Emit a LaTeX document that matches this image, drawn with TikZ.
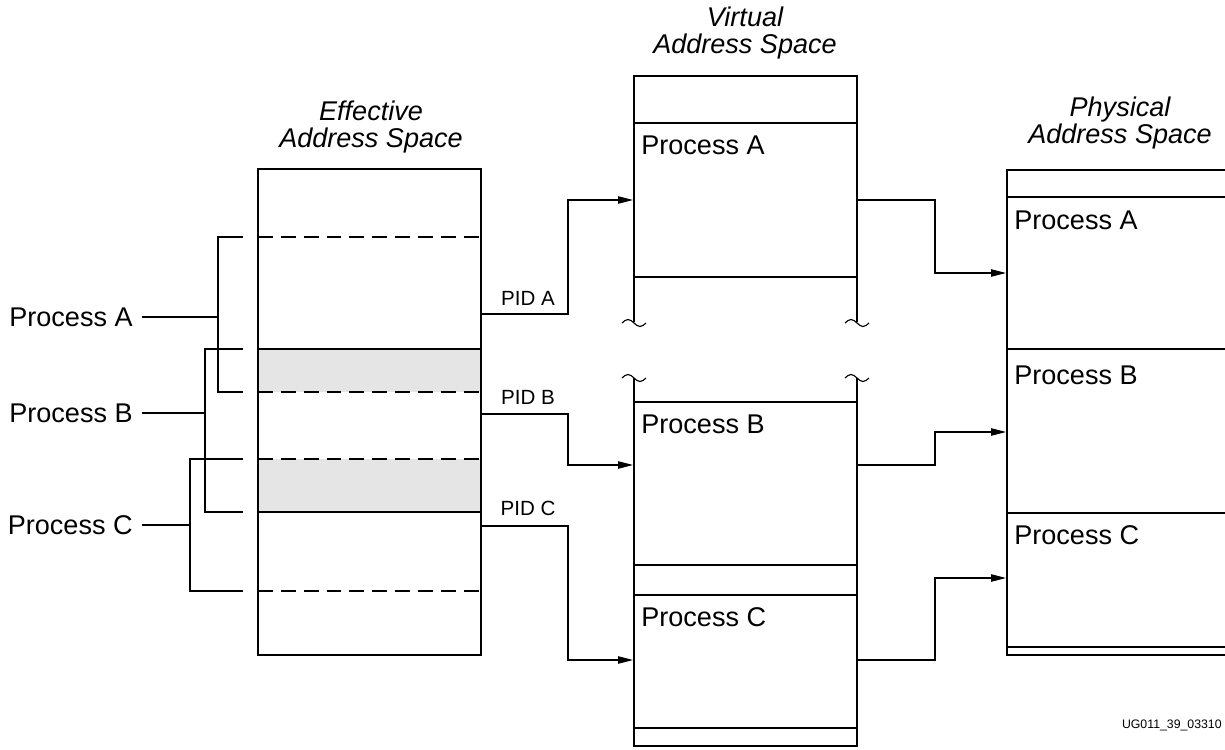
\documentclass[tikz,border=0pt]{standalone}
\usepackage{fontspec}
\setmainfont{Liberation Sans}
\usetikzlibrary{arrows.meta, positioning, calc}

\begin{document}
\begin{tikzpicture}[x=0.02cm, y=-0.02cm,
    box/.style={line width=1.4pt},
    sep/.style={line width=0.65pt},
    dsep/.style={line width=0.65pt, dash pattern=on 8.5pt off 4.5pt},
    link/.style={line width=0.65pt},
    arr/.style={line width=0.65pt, -{Triangle[length=8.5pt, width=4.2pt]}},
    txt/.style={font=\fontsize{15.4}{15.5}\selectfont, inner sep=0pt},
    ttl/.style={font=\fontsize{15.4}{15.5}\selectfont\itshape, align=center, inner sep=0pt},
    pid/.style={font=\fontsize{11.7}{12}\selectfont, inner sep=0pt}]
    \useasboundingbox (0,0) rectangle (1225,750);

    % 标题
    \node[ttl] (effT) at (371,127) {Effective\\Address Space};
    \node[ttl] (virT) at (745,33) {Virtual\\Address Space};
    \node[ttl] (phyT) at (1120,123) {Physical\\Address Space};

    % 有效地址空间
    \fill[gray!20] (258,349) rectangle (481,392);
    \fill[gray!20] (258,459) rectangle (481,512);
    \foreach \y in {237,392,459,591} \draw[dsep] (258,\y) -- (481,\y);
    \foreach \y in {349,512} \draw[sep] (258,\y) -- (481,\y);
    \draw[box] (258,169) rectangle (481,655);

    % 进程与括号
    \node[txt, anchor=east] (pA) at (133,317) {Process A};
    \node[txt, anchor=east] (pB) at (133,413) {Process B};
    \node[txt, anchor=east] (pC) at (133,525) {Process C};
    \coordinate (bA) at (218,317);
    \coordinate (bB) at (205,413);
    \coordinate (bC) at (190,525);
    \draw[link] (pA.east) ++(9,0) -- (bA);
    \draw[link] (pB.east) ++(9,0) -- (bB);
    \draw[link] (pC.east) ++(9,0) -- (bC);
    \draw[link] (243,237) -| (218,392) -- (243,392);
    \draw[link] (243,349) -| (205,512) -- (243,512);
    \draw[link] (243,459) -| (190,591) -- (243,591);

    % 虚拟地址空间
    \draw[box] (634,322) -- (634,76) -- (857,76) -- (857,322);
    \draw[box] (634,378) -- (634,746) -- (857,746) -- (857,378);
    \foreach \y in {123,277,402,565,595,728} \draw[sep] (634,\y) -- (857,\y);
    \foreach \x in {634,857}
        \foreach \y in {323,378}
            \draw[sep] (\x-12,\y) sin (\x-6,\y-3.5) cos (\x,\y) sin (\x+6,\y+3.5) cos (\x+12,\y);
    \node[txt, anchor=west] (vA) at (641,145) {Process A};
    \node[txt, anchor=west] (vB) at (641,424) {Process B};
    \node[txt, anchor=west] (vC) at (641,617) {Process C};

    % 物理地址空间
    \draw[box] (1225,170) -- (1007,170) -- (1007,655) -- (1225,655);
    \foreach \y in {197,349,513,647} \draw[sep] (1007,\y) -- (1225,\y);
    \node[txt, anchor=west] (rA) at (1014,220) {Process A};
    \node[txt, anchor=west] (rB) at (1014,375) {Process B};
    \node[txt, anchor=west] (rC) at (1014,535) {Process C};

    % PID 映射
    \coordinate (eA) at (481,314);
    \coordinate (eB) at (481,414);
    \coordinate (eC) at (481,526);
    \coordinate (inA) at (633,200);
    \coordinate (inB) at (633,465);
    \coordinate (inC) at (633,660);
    \draw[arr] (eA) -- ++(87,0) |- (inA);
    \draw[arr] (eB) -- ++(87,0) |- (inB);
    \draw[arr] (eC) -- ++(87,0) |- (inC);
    \node[pid] (pidA) at (528,298) {PID A};
    \node[pid] (pidB) at (528,397) {PID B};
    \node[pid] (pidC) at (528,508) {PID C};

    % 虚拟到物理
    \coordinate (oA) at (857,200);
    \coordinate (oB) at (857,465);
    \coordinate (oC) at (857,660);
    \coordinate (qA) at (1006,273);
    \coordinate (qB) at (1006,432);
    \coordinate (qC) at (1006,578);
    \draw[arr] (oA) -- ++(78,0) |- (qA);
    \draw[arr] (oB) -- ++(78,0) |- (qB);
    \draw[arr] (oC) -- ++(78,0) |- (qC);

    \node[font=\fontsize{7}{8}\selectfont, anchor=east, inner sep=0pt] (ug) at (1222,725) {UG011\_39\_03310};
\end{tikzpicture}
\end{document}
